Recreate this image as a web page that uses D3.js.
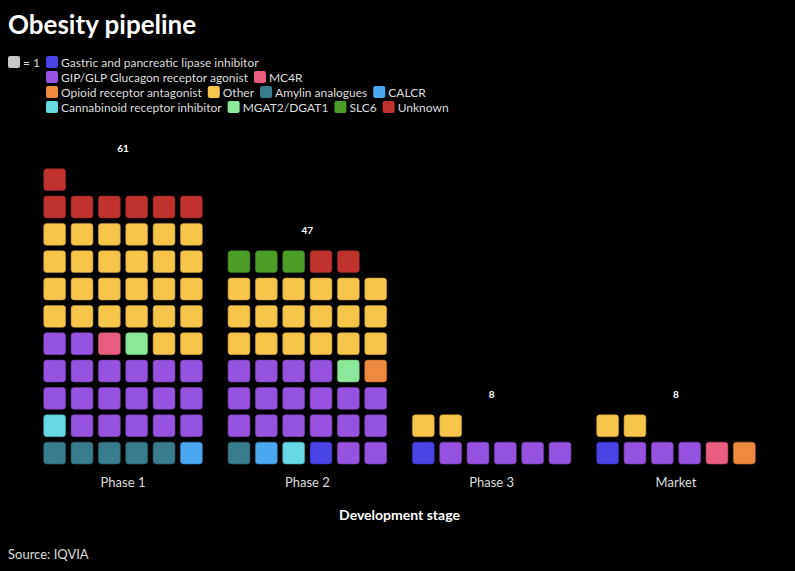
<!DOCTYPE html>
<html>
<head>
<meta charset="utf-8">
<script src="https://cdn.jsdelivr.net/npm/d3@7"></script>
<style>
  body { margin: 0; background: #000; }
  svg { display: block; font-family: Lato, "Open Sans", sans-serif; }
</style>
</head>
<body>
<div id="chart"></div>
<script>
// data
const stages = ['Phase 1', 'Phase 2', 'Phase 3', 'Market']
const categories = ['Amylin analogues', 'CALCR', 'Cannabinoid receptor inhibitor',
  'Gastric and pancreatic lipase inhibitor', 'GIP/GLP Glucagon receptor agonist',
  'MC4R', 'MGAT2/DGAT1', 'Opioid receptor antagonist', 'Other', 'SLC6', 'Unknown']
const phase1 = [5, 1, 1, 0, 19, 1, 1, 0, 26, 0, 7]
const phase2 = [1, 1, 1, 1, 18, 0, 1, 1, 18, 3, 2]
const phase3 = [0, 0, 0, 1, 5, 0, 0, 0, 2, 0, 0]
const market = [0, 0, 0, 1, 3, 1, 0, 1, 2, 0, 0]
const colors = ['#387d8c', '#4ba7ef', '#66d9e3', '#4a43e6', '#9553e0',
  '#e85d80', '#8be89a', '#ee8a40', '#f8c54c', '#4d9e28', '#c0322e']
const legendRows = [
  ['Gastric and pancreatic lipase inhibitor'],
  ['GIP/GLP Glucagon receptor agonist', 'MC4R'],
  ['Opioid receptor antagonist', 'Other', 'Amylin analogues', 'CALCR'],
  ['Cannabinoid receptor inhibitor', 'MGAT2/DGAT1', 'SLC6', 'Unknown']
]
const perRow = 6

const W = 795, H = 571
const margin = {top: 160, left: 41, right: 37, bottom: 104}
const counts = [phase1, phase2, phase3, market]

const svg = d3.select('#chart').append('svg').attr('width', W).attr('height', H)
svg.append('rect').attr('width', W).attr('height', H).attr('fill', '#000')

const color = d3.scaleOrdinal().domain(categories).range(colors)

// one cell per unit, filled bottom-up, left to right
let cells = []
counts.forEach((arr, s) => {
  let i = 0
  arr.forEach((n, c) => {
    for (let k = 0; k < n; k++) {
      cells.push({stage: stages[s], cat: categories[c], col: i % perRow, row: Math.floor(i / perRow)})
      i++
    }
  })
})

const x = d3.scaleBand().domain(stages).range([margin.left, W - margin.right]).paddingInner(0.11).paddingOuter(0.0)
const col = d3.scaleBand().domain(d3.range(perRow)).range([0, x.bandwidth()]).paddingInner(0.2).paddingOuter(0.1)
const pitch = col.step()
const yBase = H - margin.bottom - 3
const y = row => yBase - (row + 1) * pitch + (pitch - col.bandwidth())

svg.selectAll('rect.cell').data(cells).enter().append('rect')
  .attr('class', 'cell')
  .attr('x', d => x(d.stage) + col(d.col))
  .attr('y', d => y(d.row))
  .attr('width', col.bandwidth())
  .attr('height', col.bandwidth())
  .attr('rx', 3)
  .attr('fill', d => color(d.cat))
  .attr('stroke', d => d3.color(color(d.cat)).darker(0.8))
  .attr('stroke-width', 0.6)

// totals
stages.forEach((s, i) => {
  const total = d3.sum(counts[i])
  const rows = Math.ceil(total / perRow)
  svg.append('text')
    .attr('x', x(s) + x.bandwidth() / 2)
    .attr('y', y(rows - 1) - 17)
    .attr('text-anchor', 'middle')
    .attr('fill', '#fff').attr('font-size', 10).attr('font-weight', 'bold')
    .text(total)
})

// x axis
const axis = svg.append('g').attr('transform', `translate(0,${yBase + 10})`)
  .call(d3.axisBottom(x).tickSize(0).tickPadding(4))
axis.select('.domain').remove()
axis.selectAll('text').attr('fill', '#ddd').attr('font-size', 13).attr('font-family', 'Lato, sans-serif')

svg.append('text').attr('x', (margin.left + W - margin.right) / 2).attr('y', 520)
  .attr('text-anchor', 'middle').attr('fill', '#fff').attr('font-size', 14).attr('font-weight', 'bold')
  .text('Development stage')

// title and source
svg.append('text').attr('x', 8).attr('y', 34).attr('fill', '#fff')
  .attr('font-size', 26).attr('font-weight', 'bold').text('Obesity pipeline')
svg.append('text').attr('x', 8).attr('y', 559).attr('fill', '#ddd')
  .attr('font-size', 13).text('Source: IQVIA')

// legend
const lg = svg.append('g')
lg.append('rect').attr('x', 8).attr('y', 56).attr('width', 12).attr('height', 12).attr('rx', 2).attr('fill', '#c8c8c8')
lg.append('text').attr('x', 23).attr('y', 66.5).attr('fill', '#ddd').attr('font-size', 12).text('= 1')
legendRows.forEach((row, r) => {
  let lx = 46
  const ly = 56 + r * 15
  row.forEach(name => {
    lg.append('rect').attr('x', lx).attr('y', ly).attr('width', 12).attr('height', 12).attr('rx', 2).attr('fill', color(name))
    const t = lg.append('text').attr('x', lx + 15).attr('y', ly + 10.5).attr('fill', '#ddd').attr('font-size', 12).text(name)
    lx += 15 + t.node().getComputedTextLength() + 6
  })
})
</script>
</body>
</html>
